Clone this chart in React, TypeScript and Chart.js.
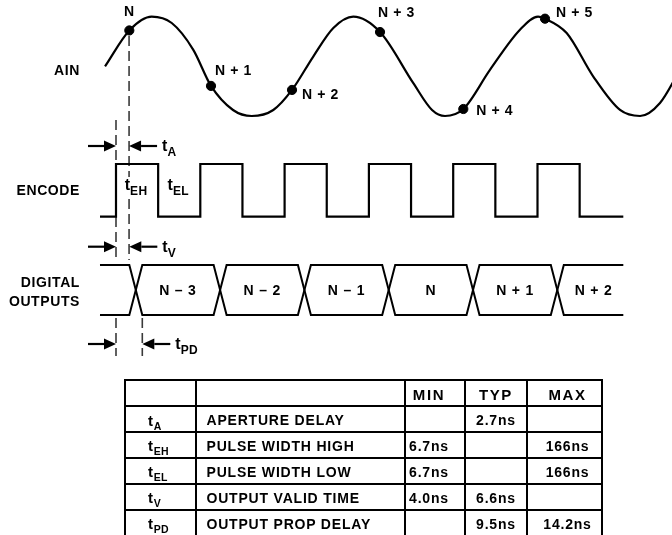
import React, { useEffect, useRef } from 'react';
import { Chart, registerables } from 'chart.js';
Chart.register(...registerables);

// ---------------- data (time in ENCODE clock periods) ----------------
const AIN_T = [-0.13, 0.158, 0.423, 0.661, 0.917, 1.127, 1.388, 1.61, 1.866, 2.088, 2.34, 2.578, 2.815, 3.132, 3.527, 3.749, 3.903, 4.12, 4.436, 4.792, 5.006, 5.089, 5.346, 5.662, 5.979, 6.216, 6.453, 6.69];
const AIN_V = [0.0, 0.723, 1.0, 0.873, 0.333, -0.394, -0.879, -1.0, -0.879, -0.475, 0.198, 0.772, 1.0, 0.691, -0.339, -0.879, -1.0, -0.859, -0.071, 0.737, 1.0, 0.96, 0.671, -0.206, -0.879, -1.0, -0.737, -0.071];

const SAMPLE_T = [0.158, 1.127, 2.088, 3.132, 4.12, 5.089];
const SAMPLE_V = [0.723, -0.394, -0.475, 0.691, -0.859, 0.96];
const SAMPLE_LABELS = ['N', 'N + 1', 'N + 2', 'N + 3', 'N + 4', 'N + 5'];

const ENCODE_T = [-0.19, 0, 0.5, 1, 1.5, 2, 2.5, 3, 3.5, 4, 4.5, 5, 5.5, 6.018];
const ENCODE_LEVEL = [0, 1, 0, 1, 0, 1, 0, 1, 0, 1, 0, 1, 0, 0];

const DIGITAL_EDGES = [0, 1, 2, 3, 4, 5];
const DIGITAL_LABELS = ['N – 3', 'N – 2', 'N – 1', 'N', 'N + 1', 'N + 2'];
const DIGITAL_START = -0.19;
const DIGITAL_END = 6.018;

const T_A = 0.155;
const T_V = 0.158;
const T_PD = 0.312;
const T_HIGH = 0.5;

const ROW_LABELS = ['AIN', 'ENCODE', 'DIGITAL', 'OUTPUTS'];

const TABLE_HEADERS = ['', '', 'MIN', 'TYP', 'MAX'];
const PARAM_SUBS = ['A', 'EH', 'EL', 'V', 'PD'];
const PARAM_NAMES = ['APERTURE DELAY', 'PULSE WIDTH HIGH', 'PULSE WIDTH LOW', 'OUTPUT VALID TIME', 'OUTPUT PROP DELAY'];
const PARAM_MIN = ['', '6.7ns', '6.7ns', '4.0ns', ''];
const PARAM_TYP = ['2.7ns', '', '', '6.6ns', '9.5ns'];
const PARAM_MAX = ['', '166ns', '166ns', '', '14.2ns'];

// ---------------- layout ----------------
const W = 672;
const H = 535;
const FONT = '"Liberation Sans", Arial, Helvetica, sans-serif';
const ORIGIN_PX = 116;
const PERIOD_PX = 84.3;

function axisRange(pxA: number, vA: number, pxB: number, vB: number) {
  const k = (pxB - pxA) / (vA - vB);
  return { min: vA - (H - pxA) / k, max: vA + pxA / k };
}
const AIN_AXIS = axisRange(16.7, 1, 116, -1);
const ENC_AXIS = axisRange(164, 1, 216.7, 0);
const DIG_AXIS = axisRange(265, 1, 315, 0);

const ROW_LABEL_POS = [70.7, 190.7, 283.3, 301.7];
const ROW_LABEL_RIGHT = 80;
const SAMPLE_LABEL_OFFSET: [number, number, CanvasTextAlign][] = [
  [0, -18, 'center'], [4, -15, 'left'], [10, 5, 'left'], [-2, -19, 'left'], [13, 2, 'left'], [11, -6, 'left'],
];
const MARK_ROWS = [
  { sub: 'A', t: T_A, y: 146 },
  { sub: 'V', t: T_V, y: 246.7 },
  { sub: 'PD', t: T_PD, y: 344 },
];
const GUIDES: { t: number; segs: [number, number][] }[] = [
  { t: 0, segs: [[120, 164], [217, 260], [318, 356]] },
  { t: T_A, segs: [[36, 177], [199, 260]] },
  { t: T_PD, segs: [[318, 356]] },
];

const COL_LINES = [125, 195.5, 405, 465, 527, 602];
const ROW_LINES = [379.5, 406, 432, 457.5, 483.5, 509.5, 535.5];

function setFont(ctx: CanvasRenderingContext2D, size: number, spacing = 0.5) {
  ctx.font = `bold ${size}px ${FONT}`;
  (ctx as any).letterSpacing = `${spacing}px`;
}

function symWidth(ctx: CanvasRenderingContext2D, sub: string) {
  setFont(ctx, 16, 0);
  const a = ctx.measureText('t').width;
  setFont(ctx, 12, 0.3);
  return a + ctx.measureText(sub).width;
}

function drawSym(ctx: CanvasRenderingContext2D, x: number, base: number, sub: string) {
  ctx.textAlign = 'left';
  ctx.textBaseline = 'alphabetic';
  setFont(ctx, 16, 0);
  ctx.fillText('t', x, base);
  const w = ctx.measureText('t').width;
  setFont(ctx, 12, 0.3);
  ctx.fillText(sub, x + w, base + 5);
}

function arrow(ctx: CanvasRenderingContext2D, tail: number, tip: number, y: number) {
  const dir = Math.sign(tip - tail);
  const HL = 12;
  const HW = 5.5;
  ctx.lineWidth = 2.2;
  ctx.beginPath();
  ctx.moveTo(tail, y);
  ctx.lineTo(tip - dir * HL, y);
  ctx.stroke();
  ctx.beginPath();
  ctx.moveTo(tip, y);
  ctx.lineTo(tip - dir * HL, y - HW);
  ctx.lineTo(tip - dir * HL, y + HW);
  ctx.closePath();
  ctx.fill();
}

const overlayPlugin = {
  id: 'timingOverlay',
  afterDatasetsDraw(chart: any) {
    const ctx: CanvasRenderingContext2D = chart.ctx;
    const xs = chart.scales.x;
    const yd = chart.scales.yDig;
    const ye = chart.scales.yEnc;
    ctx.save();
    ctx.fillStyle = '#000';
    ctx.strokeStyle = '#000';

    // row labels
    setFont(ctx, 14, 0.6);
    ctx.textAlign = 'right';
    ctx.textBaseline = 'middle';
    ROW_LABELS.forEach((l, i) => ctx.fillText(l, ROW_LABEL_RIGHT, ROW_LABEL_POS[i]));

    // sample labels
    const meta = chart.getDatasetMeta(1);
    setFont(ctx, 14, 0.6);
    ctx.textBaseline = 'middle';
    SAMPLE_LABELS.forEach((l, i) => {
      const p = meta.data[i];
      const [dx, dy, al] = SAMPLE_LABEL_OFFSET[i];
      ctx.textAlign = al;
      ctx.fillText(l, p.x + dx, p.y + dy);
    });

    // digital labels
    setFont(ctx, 14, 0.8);
    ctx.textAlign = 'center';
    ctx.textBaseline = 'middle';
    const yMid = yd.getPixelForValue(0.5);
    DIGITAL_LABELS.forEach((l, i) => {
      const a = DIGITAL_EDGES[i] + T_PD;
      const b = i + 1 < DIGITAL_EDGES.length ? DIGITAL_EDGES[i + 1] + T_V : DIGITAL_END;
      ctx.fillText(l, xs.getPixelForValue((a + b) / 2), yMid + 1);
    });

    // encode pulse width labels
    const encBase = ye.getPixelForValue(0.5) + 0;
    [['EH', T_HIGH / 2], ['EL', T_HIGH + (1 - T_HIGH) / 2]].forEach(([sub, t]) => {
      const w = symWidth(ctx, sub as string);
      drawSym(ctx, xs.getPixelForValue(t as number) - w / 2 - 1, encBase, sub as string);
    });

    // timing arrows
    const ARROW_LEN = 28;
    MARK_ROWS.forEach((m) => {
      const x0 = xs.getPixelForValue(0);
      const x1 = xs.getPixelForValue(m.t);
      arrow(ctx, x0 - ARROW_LEN, x0, m.y);
      arrow(ctx, x1 + ARROW_LEN, x1, m.y);
      drawSym(ctx, x1 + ARROW_LEN + 5, m.y + 5, m.sub);
    });
    ctx.restore();
  },
};

function buildDigital() {
  const a: { x: number; y: number }[] = [{ x: DIGITAL_START, y: 1 }];
  const b: { x: number; y: number }[] = [{ x: DIGITAL_START, y: 0 }];
  let la = 1;
  DIGITAL_EDGES.forEach((r) => {
    a.push({ x: r + T_V, y: la }, { x: r + T_PD, y: 1 - la });
    b.push({ x: r + T_V, y: 1 - la }, { x: r + T_PD, y: la });
    la = 1 - la;
  });
  a.push({ x: DIGITAL_END, y: la });
  b.push({ x: DIGITAL_END, y: 1 - la });
  return [a, b];
}

function buildGuides() {
  const pts: { x: number; y: number | null }[] = [];
  GUIDES.forEach((g) => {
    g.segs.forEach(([y0, y1]) => {
      pts.push({ x: g.t, y: y0 }, { x: g.t, y: y1 }, { x: g.t, y: null });
    });
  });
  return pts;
}

function SpecTable() {
  const cellText: React.ReactNode[][] = [
    TABLE_HEADERS,
    ...PARAM_NAMES.map((n, i) => [
      <span key="s">
        <span style={{ fontSize: 15 }}>t</span>
        <span style={{ fontSize: 10.5, position: 'relative', top: 4, letterSpacing: 0.3 }}>{PARAM_SUBS[i]}</span>
      </span>,
      n,
      PARAM_MIN[i],
      PARAM_TYP[i],
      PARAM_MAX[i],
    ]),
  ];
  const lines: React.ReactNode[] = [];
  const top = ROW_LINES[0];
  const left = COL_LINES[0];
  const right = COL_LINES[COL_LINES.length - 1];
  COL_LINES.forEach((x, i) =>
    lines.push(<div key={'v' + i} style={{ position: 'absolute', left: x - 1, top: top - 1, width: 2, height: H - top + 4, background: '#000' }} />)
  );
  ROW_LINES.forEach((y, i) =>
    lines.push(<div key={'h' + i} style={{ position: 'absolute', left: left - 1, top: y - 1, width: right - left + 2, height: 2, background: '#000' }} />)
  );
  const cells: React.ReactNode[] = [];
  cellText.forEach((row, r) => {
    row.forEach((txt, c) => {
      const isHeader = r === 0;
      const justify = c <= 1 ? 'flex-start' : 'center';
      const padL = c === 0 ? 22 : c === 1 ? 10 : c === 4 ? 6 : 0;
      const padR = c === 2 ? 12 : 0;
      cells.push(
        <div
          key={r + '-' + c}
          style={{
            position: 'absolute',
            left: COL_LINES[c] + 1,
            top: ROW_LINES[r] + 1,
            width: COL_LINES[c + 1] - COL_LINES[c] - 2,
            height: ROW_LINES[r + 1] - ROW_LINES[r] - 2,
            display: 'flex',
            alignItems: 'center',
            justifyContent: justify,
            paddingLeft: padL,
            paddingRight: padR,
            paddingTop: isHeader ? 3 : 2,
            boxSizing: 'border-box',
            fontWeight: 'bold',
            fontSize: isHeader ? 15 : 14,
            letterSpacing: isHeader ? 1.6 : 0.8,
            whiteSpace: 'nowrap',
            color: '#000',
          }}
        >
          {txt}
        </div>
      );
    });
  });
  return (
    <div style={{ position: 'absolute', left: 0, top: 0, width: W, height: H, fontFamily: FONT }}>
      {lines}
      {cells}
    </div>
  );
}

export default function App() {
  const ref = useRef<HTMLCanvasElement>(null);
  useEffect(() => {
    document.body.style.margin = '0';
    const [digA, digB] = buildDigital();
    const chart = new Chart(ref.current as HTMLCanvasElement, {
      type: 'line',
      data: {
        datasets: [
          {
            data: AIN_T.map((t, i) => ({ x: t, y: AIN_V[i] })),
            yAxisID: 'yAin',
            borderColor: '#000',
            borderWidth: 2.2,
            pointRadius: 0,
            cubicInterpolationMode: 'monotone',
            fill: false,
          } as any,
          {
            data: SAMPLE_T.map((t, i) => ({ x: t, y: SAMPLE_V[i] })),
            yAxisID: 'yAin',
            showLine: false,
            pointRadius: 4.6,
            pointBorderWidth: 1,
            pointBackgroundColor: '#000',
            pointBorderColor: '#000',
          },
          {
            data: ENCODE_T.map((t, i) => ({ x: t, y: ENCODE_LEVEL[i] })),
            yAxisID: 'yEnc',
            stepped: 'before',
            borderColor: '#000',
            borderWidth: 2.2,
            pointRadius: 0,
          },
          { data: digA, yAxisID: 'yDig', borderColor: '#000', borderWidth: 2, pointRadius: 0, tension: 0 },
          { data: digB, yAxisID: 'yDig', borderColor: '#000', borderWidth: 2, pointRadius: 0, tension: 0 },
          {
            data: buildGuides(),
            yAxisID: 'yPx',
            borderColor: '#3a3a3a',
            borderWidth: 1.6,
            borderDash: [10, 5],
            pointRadius: 0,
            spanGaps: false,
          } as any,
        ],
      },
      options: {
        animation: false,
        responsive: false,
        maintainAspectRatio: false,
        events: [],
        layout: { padding: 0, autoPadding: false },
        plugins: { legend: { display: false }, tooltip: { enabled: false } },
        scales: {
          x: { type: 'linear', display: false, min: -ORIGIN_PX / PERIOD_PX, max: (W - ORIGIN_PX) / PERIOD_PX },
          yAin: { type: 'linear', display: false, min: AIN_AXIS.min, max: AIN_AXIS.max },
          yEnc: { type: 'linear', display: false, min: ENC_AXIS.min, max: ENC_AXIS.max },
          yDig: { type: 'linear', display: false, min: DIG_AXIS.min, max: DIG_AXIS.max },
          yPx: { type: 'linear', display: false, min: 0, max: H, reverse: true },
        },
      },
      plugins: [overlayPlugin],
    });
    return () => chart.destroy();
  }, []);
  return (
    <div style={{ position: 'relative', width: W, height: H, overflow: 'hidden', background: '#fff' }}>
      <canvas ref={ref} width={W} height={H} style={{ position: 'absolute', left: 0, top: 0, width: W, height: H }} />
      <SpecTable />
    </div>
  );
}
